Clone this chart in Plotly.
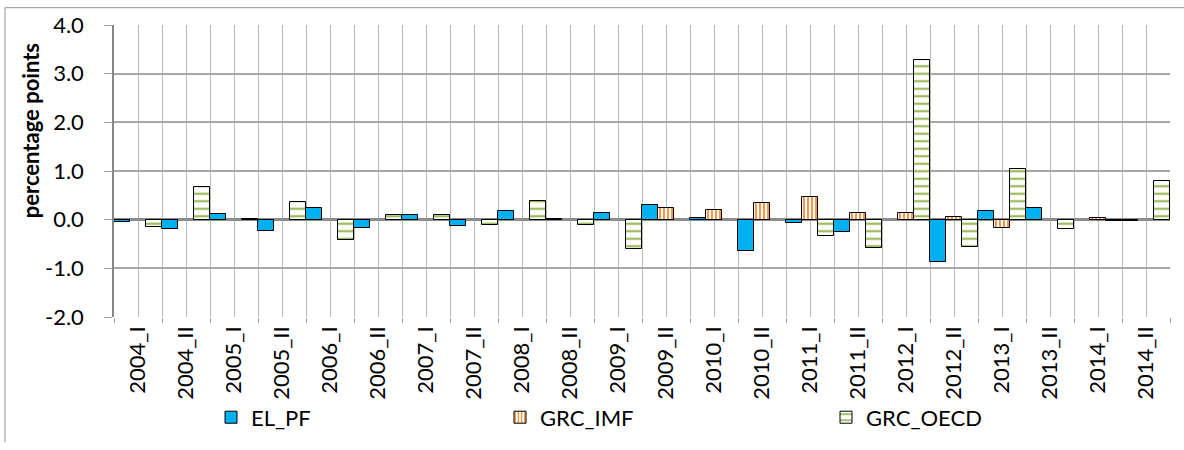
import plotly.graph_objects as go

categories = ["2004_I", "2004_II", "2005_I", "2005_II", "2006_I", "2006_II",
              "2007_I", "2007_II", "2008_I", "2008_II", "2009_I", "2009_II",
              "2010_I", "2010_II", "2011_I", "2011_II", "2012_I", "2012_II",
              "2013_I", "2013_II", "2014_I", "2014_II"]

el_pf = [-0.05, -0.20, 0.11, -0.24, 0.23, -0.17, 0.09, -0.13, 0.17, 0.02, 0.13,
         0.30, 0.04, -0.65, -0.07, -0.25, None, -0.86, 0.18, 0.25, None, -0.03]
grc_imf = [None, None, None, None, None, None, None, None, None, None, None,
           0.25, 0.20, 0.35, 0.47, 0.13, 0.13, 0.06, -0.18, None, 0.03, None]
grc_oecd = [-0.15, 0.68, 0.02, 0.37, -0.41, 0.09, 0.09, -0.11, 0.39, -0.10, -0.60,
            None, None, None, -0.34, -0.58, 3.29, -0.56, 1.05, -0.19, -0.03, 0.79]

y_ticks = [-2.0, -1.0, 0.0, 1.0, 2.0, 3.0, 4.0]

FONT = "Lato"
W, H = 1184, 450
ML, MR, MT, MB = 114, 14, 25, 124
PW = W - ML - MR
PH = H - MT - MB

def px_x(p):
    return (p - ML) / PW

def px_y(p):
    return (H - MB - p) / PH

xs = list(range(len(categories)))

fig = go.Figure()
fig.add_trace(go.Bar(
    x=xs, y=el_pf, name="EL_PF",
    marker=dict(color="#00B0F0", line=dict(color="#000000", width=1)),
    legend="legend",
))
fig.add_trace(go.Bar(
    x=xs, y=grc_imf, name="GRC_IMF",
    marker=dict(color="#FFFFFF", line=dict(color="#000000", width=1),
                pattern=dict(shape="|", fgcolor="#F79646", bgcolor="#FFFFFF",
                             size=4, solidity=0.5, fillmode="replace")),
    legend="legend2",
))
fig.add_trace(go.Bar(
    x=xs, y=grc_oecd, name="GRC_OECD",
    marker=dict(color="#FFFFFF", line=dict(color="#000000", width=1),
                pattern=dict(shape="-", fgcolor="#9BBB59", bgcolor="#FFFFFF",
                             size=7.5, solidity=0.3, fillmode="replace")),
    legend="legend3",
))

legend_common = dict(orientation="h", yanchor="middle", xanchor="left",
                     font=dict(family=FONT, size=22, color="#000000"),
                     bgcolor="rgba(0,0,0,0)", borderwidth=0, visible=True)

fig.update_layout(
    width=W, height=H,
    margin=dict(l=ML, r=MR, t=MT, b=MB),
    paper_bgcolor="#FFFFFF", plot_bgcolor="#FFFFFF",
    barmode="group", bargap=0, bargroupgap=0,
    showlegend=True,
    font=dict(family=FONT, size=22, color="#000000"),
    legend=dict(x=px_x(211), y=px_y(429.5), **legend_common),
    legend2=dict(x=px_x(500), y=px_y(429.5), **legend_common),
    legend3=dict(x=px_x(826), y=px_y(429.5), **legend_common),
    xaxis=dict(
        range=[-0.5, len(categories) - 0.5],
        tickmode="array", tickvals=xs, ticktext=categories,
        tickangle=-90, tickfont=dict(family=FONT, size=22, color="#000000"),
        showgrid=True, gridcolor="#BBBBBB", gridwidth=1.3,
        ticks="", ticklabelstandoff=4,
        minor=dict(tickmode="linear", tick0=-0.5, dtick=1, showgrid=True,
                   gridcolor="#BBBBBB", gridwidth=1.3,
                   ticks="outside", ticklen=5, tickcolor="#A0A0A0"),
        showline=False, zeroline=False, fixedrange=True,
    ),
    yaxis=dict(
        range=[-2.0, 4.0],
        tickmode="array", tickvals=y_ticks, ticktext=[f"{v:.1f}" for v in y_ticks],
        tickfont=dict(family=FONT, size=22, color="#000000"),
        showgrid=True, gridcolor="#A6A6A6", gridwidth=1.5,
        ticks="outside", ticklen=8, tickcolor="#A0A0A0", ticklabelstandoff=16,
        showline=True, linecolor="#868686", linewidth=1.5,
        zeroline=True, zerolinecolor="#8C8C8C", zerolinewidth=2.5,
        fixedrange=True,
    ),
    annotations=[dict(
        text="<b>percentage points</b>", textangle=-90,
        xref="paper", yref="paper", x=px_x(30), y=px_y(134.5),
        xanchor="center", yanchor="middle", showarrow=False,
        font=dict(family=FONT, size=22, color="#000000"),
    )],
    shapes=[
        dict(type="line", xref="paper", yref="paper",
             x0=px_x(5), x1=px_x(W + 5), y0=px_y(7), y1=px_y(7),
             line=dict(color="#A6A6A6", width=1.2)),
        dict(type="line", xref="paper", yref="paper",
             x0=px_x(5), x1=px_x(5), y0=px_y(7), y1=px_y(H + 5),
             line=dict(color="#A6A6A6", width=1.2)),
    ],
)

fig.write_html("out.html", config={"displayModeBar": False},
               post_script="document.body.style.margin='0';document.body.style.overflow='hidden';")
